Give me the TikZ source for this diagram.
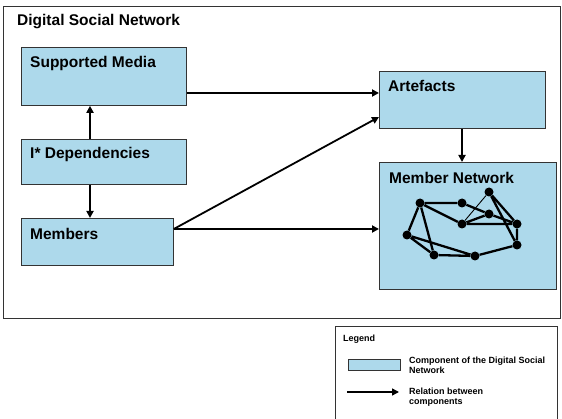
\documentclass[tikz,border=0pt]{standalone}
\usepackage{fontspec}
\setmainfont{Liberation Sans}
\usetikzlibrary{arrows.meta}
\definecolor{compblue}{HTML}{ADD9EB}
\definecolor{framegray}{HTML}{333333}

\tikzset{
  comp/.style={draw=framegray, line width=0.8pt, fill=compblue, anchor=north west, inner sep=0pt},
  compname/.style={anchor=west, font=\bfseries\fontsize{15.5}{18}\selectfont, inner sep=0pt},
  rel/.style={line width=1.8pt, -{Triangle[length=7pt,width=7pt]}},
  dot/.style={circle, fill=black, inner sep=0pt, minimum size=9pt},
  tie/.style={line width=2.3pt},
  thintie/.style={line width=0.9pt},
  legtext/.style={anchor=west, align=left, font=\bfseries\fontsize{9}{10.5}\selectfont, inner sep=0pt}
}

\begin{document}
\begin{tikzpicture}[x=1pt,y=-1pt]
   \useasboundingbox (0,0) rectangle (562,419);
   % outer frame
   \draw[framegray, line width=0.8pt] (3,6) rectangle (560.5,318);
   \node[compname] (dsn) at (17,22) {Digital Social Network};

   % components
   \node[comp, minimum width=165pt, minimum height=58pt] (media) at (21,47) {};
   \node[comp, minimum width=165pt, minimum height=45pt] (deps) at (21,139) {};
   \node[comp, minimum width=152pt, minimum height=47pt] (members) at (21,218) {};
   \node[comp, minimum width=166pt, minimum height=57pt] (artefacts) at (379,71) {};
   \node[comp, minimum width=177pt, minimum height=127pt] (netw) at (379,162) {};
   \node[compname] at (30,63.5) {Supported Media};
   \node[compname] at (30,154.5) {I* Dependencies};
   \node[compname] at (30,233.5) {Members};
   \node[compname] at (388,85.5) {Artefacts};
   \node[compname] at (389,177.5) {Member Network};

   % relations
   \draw[rel] (deps.north -| 90,0) -- (media.south -| 90,0);
   \draw[rel] (deps.south -| 90,0) -- (members.north -| 90,0);
   \draw[rel] (media.east |- 0,93) -- (artefacts.west |- 0,93);
   \draw[rel] (members.east |- 0,229) -- (artefacts.west |- 0,117);
   \draw[rel] (members.east |- 0,229) -- (netw.west |- 0,229);
   \draw[rel] (artefacts.south -| 462,0) -- (netw.north -| 462,0);

   % member network
   \node[dot] (m1) at (420,203) {};
   \node[dot] (m2) at (462,203) {};
   \node[dot] (m3) at (489,192) {};
   \node[dot] (m4) at (489,214) {};
   \node[dot] (m5) at (462,224) {};
   \node[dot] (m6) at (517,224) {};
   \node[dot] (m7) at (407,235) {};
   \node[dot] (m8) at (517,245) {};
   \node[dot] (m9) at (434,255) {};
   \node[dot] (m10) at (475,256) {};
   \draw[tie] (m1) -- (m2) (m1) -- (m5) (m1) -- (m7) (m1) -- (m9)
              (m2) -- (m4) -- (m6) (m5) -- (m4) (m5) -- (m6)
              (m3) -- (m6) (m3) -- (m8) (m6) -- (m8)
              (m7) -- (m9) (m7) -- (m10) (m9) -- (m10) (m10) -- (m8);
   \draw[thintie] (m3) -- (m5);

   % legend
   \draw[framegray, line width=0.8pt] (335,420) -- (335,326) -- (557,326) -- (557,420);
   \node[legtext] (legend) at (343,339) {Legend};
   \node[comp, minimum width=52pt, minimum height=11pt] (legbox) at (348,359) {};
   \node[legtext] (legboxtext) at (409,365.5) {Component of the Digital Social\\Network};
   \coordinate (legstart) at (347,392);
   \coordinate (legend-end) at (399,392);
   \draw[rel, line width=1.5pt] (legstart) -- (legend-end);
   \node[legtext] (legreltext) at (409,397) {Relation between\\components};
\end{tikzpicture}
\end{document}
